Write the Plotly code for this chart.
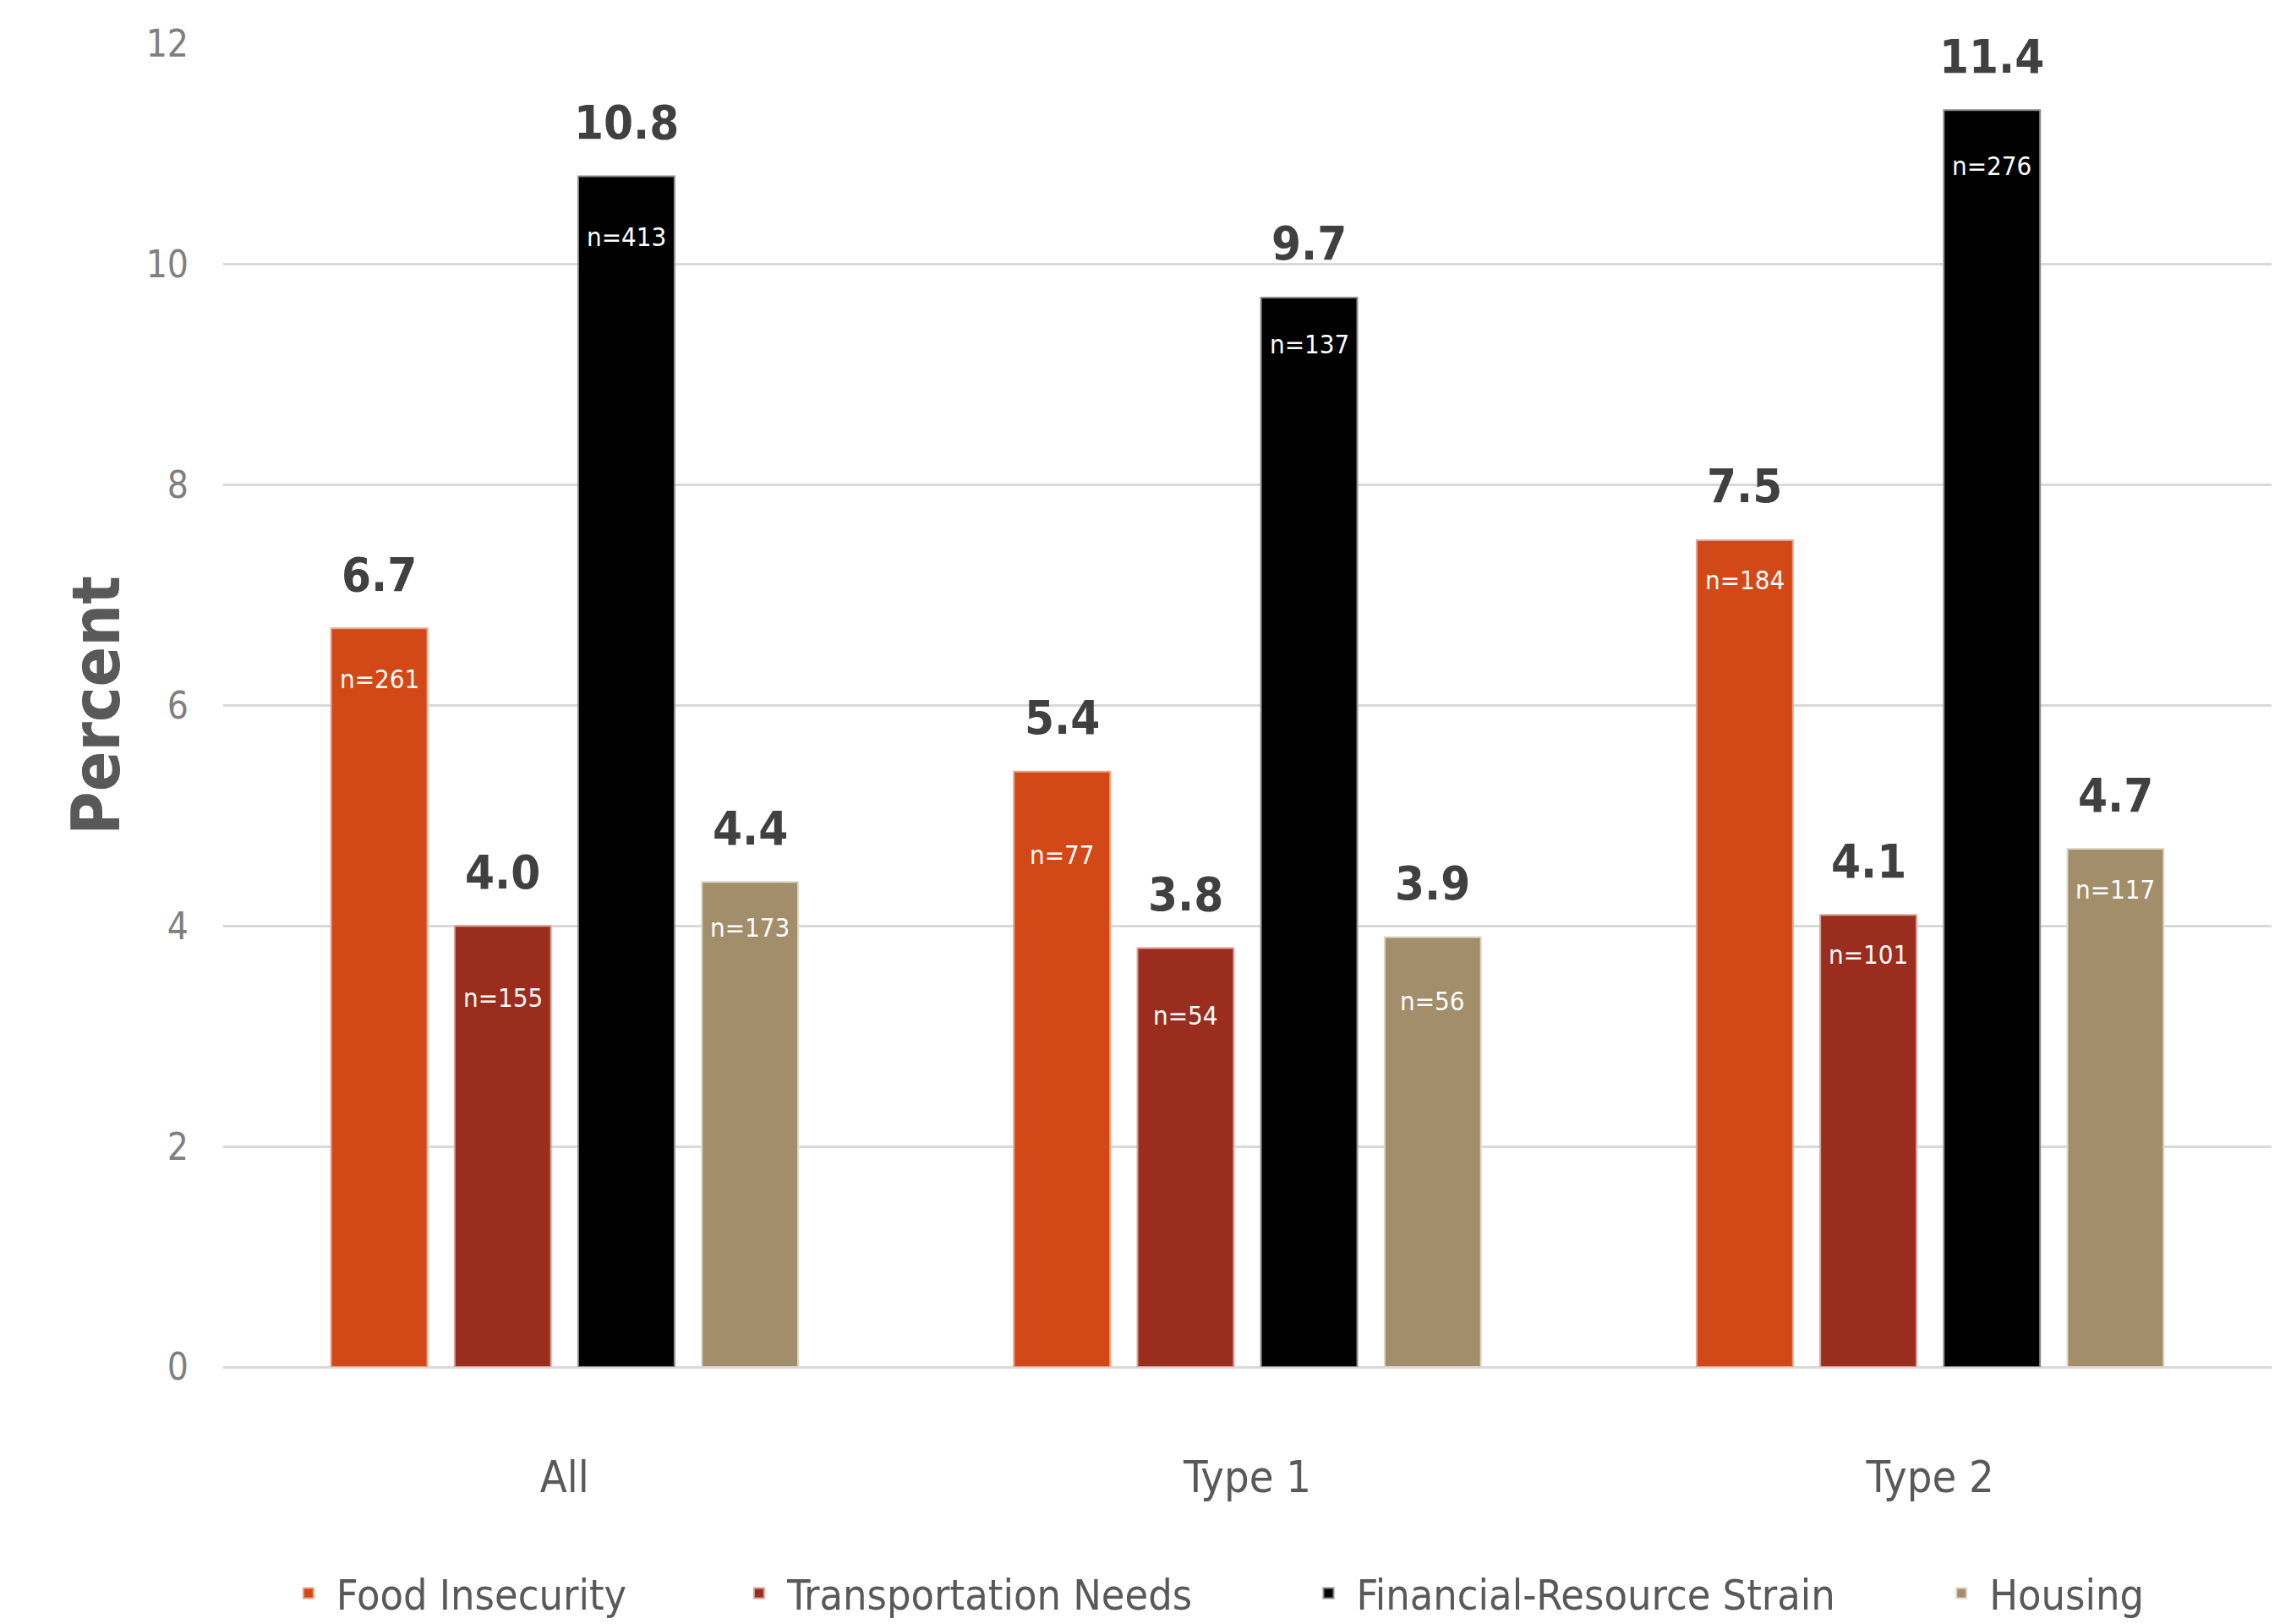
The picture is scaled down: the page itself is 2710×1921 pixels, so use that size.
import plotly.graph_objects as go

# ---- data ----
groups = ["All", "Type 1", "Type 2"]
series_names = ["Food Insecurity", "Transportation Needs", "Financial-Resource Strain", "Housing"]
food = [6.7, 5.4, 7.5]
transport = [4.0, 3.8, 4.1]
financial = [10.8, 9.7, 11.4]
housing = [4.4, 3.9, 4.7]
food_n = [261, 77, 184]
transport_n = [155, 54, 101]
financial_n = [413, 137, 276]
housing_n = [173, 56, 117]
y_ticks = [0, 2, 4, 6, 8, 10, 12]

# ---- styles ----
colors = ["#D34817", "#9B2D1F", "#000000", "#A28E6A"]
edge_colors = ["#E8A58C", "#D9A39B", "#8C8C8C", "#E0D8C8"]
FONT = "DejaVu Sans Condensed, Liberation Sans Narrow, sans-serif"
# pixel gap between bar top and the centre of the n= label (per series, per group)
n_gaps = [[60, 98, 47], [85, 80, 47], [71, 55, 66], [54, 76, 48]]
legend_x = [0.028, 0.248, 0.526, 0.835]

values = [food, transport, financial, housing]
counts = [food_n, transport_n, financial_n, housing_n]

slot = 0.181
bar_w = 0.141
xpos = list(range(len(groups)))

fig = go.Figure()
annotations = []
legend_layouts = {}
for k, (name, vals, ns) in enumerate(zip(series_names, values, counts)):
    off = (k - 1.5) * slot
    lg = "legend" if k == 0 else f"legend{k + 1}"
    fig.add_trace(go.Bar(
        name=name,
        x=xpos,
        y=vals,
        width=bar_w,
        offset=off - bar_w / 2,
        marker=dict(color=colors[k], line=dict(color=edge_colors[k], width=2)),
        hoverinfo="skip",
        legend=lg,
    ))
    legend_layouts[lg] = dict(
        orientation="h", x=legend_x[k], xanchor="left", y=-0.171, yanchor="middle",
        font=dict(family=FONT, size=50, color="#595959"),
        bgcolor="rgba(0,0,0,0)", itemwidth=56,
    )
    for i, (v, n) in enumerate(zip(vals, ns)):
        annotations.append(dict(
            x=i + off, y=v, xref="x", yref="y", text=f"<b>{v:.1f}</b>",
            showarrow=False, yanchor="middle", yshift=64,
            font=dict(family=FONT, size=56, color="#404040"),
        ))
        annotations.append(dict(
            x=i + off, y=v, xref="x", yref="y", text=f"n={n}",
            showarrow=False, yanchor="middle", yshift=-n_gaps[k][i],
            font=dict(family=FONT, size=31, color="#FFFFFF"),
        ))

fig.update_layout(
    width=2710, height=1921,
    barmode="overlay",
    plot_bgcolor="white", paper_bgcolor="white",
    margin=dict(l=264, r=23, t=52, b=304, autoexpand=False),
    font=dict(family=FONT, color="#595959"),
    annotations=annotations,
    showlegend=True,
    xaxis=dict(
        range=[-0.5, 2.5], tickvals=xpos, ticktext=groups,
        showgrid=False, zeroline=False, showline=False,
        tickfont=dict(family=FONT, size=52, color="#595959"),
        ticks="", ticklabelstandoff=95,
    ),
    yaxis=dict(
        range=[0, 12], tickvals=y_ticks,
        showgrid=True, gridcolor="#D9D9D9", gridwidth=3,
        zeroline=True, zerolinecolor="#D9D9D9", zerolinewidth=3,
        showline=False, ticks="",
        tickfont=dict(family=FONT, size=44, color="#7F7F7F"),
        ticklabelstandoff=40,
        title=dict(text="<b>Percent</b>", font=dict(family=FONT, size=78, color="#595959"),
                   standoff=5),
    ),
    **legend_layouts,
)

fig.write_html("out.html")
